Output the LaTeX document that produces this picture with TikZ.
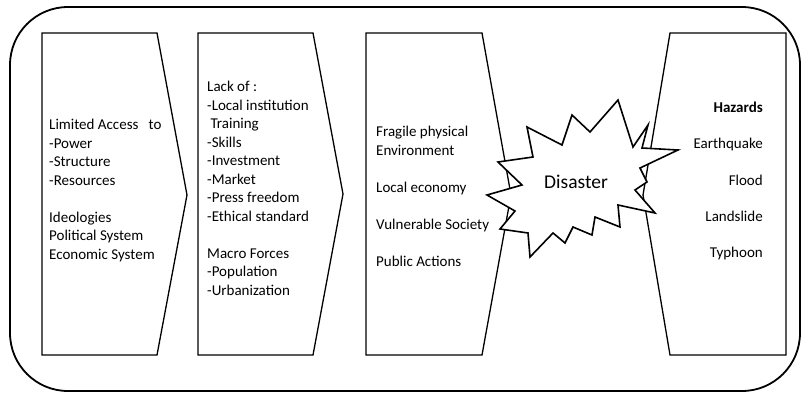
\documentclass[tikz,border=0pt]{standalone}
\usepackage{fontspec}
\setmainfont{Carlito}
\usepackage{tikz}

\tikzset{
  panel/.style={draw=black, line width=1.3pt, line join=miter},
  listtext/.style={anchor=north west, inner sep=0pt, align=left,
    font=\fontsize{15}{18.5}\selectfont},
  hazardtext/.style={anchor=north east, inner sep=0pt, align=right,
    font=\fontsize{15}{36.2}\selectfont}
}

\begin{document}
\begin{tikzpicture}[x=1pt, y=-1pt]
  \useasboundingbox (0,0) rectangle (803,394);
  % frame round everything
  \draw[line width=1.8pt, rounded corners=58pt] (10,7) rectangle (800,391);
  % the four panels
  \draw[panel] (42,33) -- (157,33) -- (187,195) -- (157,355) -- (42,355) -- cycle;
  \draw[panel] (198,33) -- (313,33) -- (343,194) -- (313,355) -- (198,355) -- cycle;
  \draw[panel] (366,33) -- (482,33) -- (511,195) -- (482,355) -- (366,355) -- cycle;
  \draw[panel] (670,33) -- (786,33) -- (786,355) -- (670,355) -- (643,195) -- cycle;
  % burst in the middle
  \filldraw[fill=white, draw=black, line width=1.6pt, line join=miter]
    (618,100) -- (633,147) -- (648,125) -- (642,148) -- (678,150) -- (640,168)
    -- (647,182) -- (635,190) -- (655,213) -- (618,205) -- (620,227) -- (595,217)
    -- (592,235) -- (573,227) -- (565,243) -- (553,233) -- (530,257) -- (528,233)
    -- (500,229) -- (515,211) -- (487,195) -- (522,185) -- (498,162) -- (533,157)
    -- (527,127) -- (562,145) -- (572,115) -- (590,132) -- cycle;
  \node[font=\fontsize{19.5}{22}\selectfont] (disaster) at (576,182) {Disaster};
  % texts
  \node[listtext] (access) at (49,119) {Limited Access\ \ \ to\\-Power\\-Structure\\-Resources\\[18.5pt]
    Ideologies\\Political System\\Economic System};
  \node[listtext] (lack) at (207,81) {Lack of :\\-Local institution\\\ Training\\-Skills\\-Investment\\-Market\\
    -Press freedom\\-Ethical standard\\[18.5pt]Macro Forces\\-Population\\-Urbanization};
  \node[listtext] (fragile) at (376,126) {Fragile physical\\Environment\\[18.5pt]Local economy\\[18.5pt]
    Vulnerable Society\\[18.5pt]Public Actions};
  \node[hazardtext] (hazards) at (763,102) {\textbf{Hazards}\\Earthquake\hspace{5pt}\\Flood\\Landslide\\Typhoon};
\end{tikzpicture}
\end{document}
